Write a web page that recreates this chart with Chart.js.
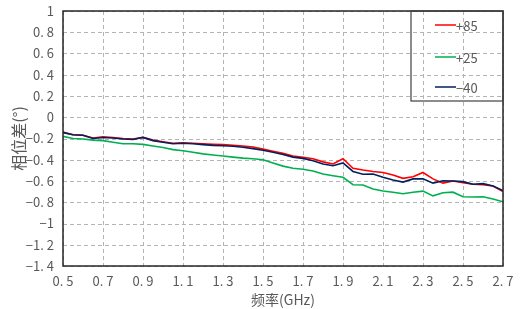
<!DOCTYPE html>
<html>
<head>
<meta charset="utf-8">
<script src="https://cdn.jsdelivr.net/npm/chart.js@4/dist/chart.umd.min.js"></script>
<style>
  html, body { margin: 0; padding: 0; background: #fff; }
  #wrap { width: 523px; height: 309px; position: relative; }
</style>
</head>
<body>
<div id="wrap"><canvas id="chart"></canvas></div>
<script>
// frequency points (GHz)
const freq = [
    0.50, 0.55, 0.60, 0.65, 0.70, 0.75, 0.80, 0.85, 0.90, 0.95,
    1.00, 1.05, 1.10, 1.15, 1.20, 1.25, 1.30, 1.35, 1.40, 1.45,
    1.50, 1.55, 1.60, 1.65, 1.70, 1.75, 1.80, 1.85, 1.90, 1.95,
    2.00, 2.05, 2.10, 2.15, 2.20, 2.25, 2.30, 2.35, 2.40, 2.45,
    2.50, 2.55, 2.60, 2.65, 2.70
];

// phase difference (deg) for each temperature
const p85 = [
    -0.14, -0.165, -0.17, -0.195, -0.185, -0.19, -0.20, -0.205, -0.19, -0.215,
    -0.23, -0.245, -0.24, -0.245, -0.25, -0.255, -0.258, -0.263, -0.27, -0.28,
    -0.30, -0.32, -0.34, -0.365, -0.377, -0.39, -0.42, -0.44, -0.39, -0.48,
    -0.497, -0.51, -0.52, -0.543, -0.575, -0.56, -0.52, -0.58, -0.62, -0.60,
    -0.615, -0.63, -0.635, -0.647, -0.70
];
const p25 = [
    -0.18, -0.20, -0.205, -0.215, -0.22, -0.235, -0.25, -0.25, -0.255, -0.27,
    -0.285, -0.305, -0.315, -0.33, -0.345, -0.355, -0.365, -0.375, -0.385, -0.39,
    -0.40, -0.43, -0.46, -0.48, -0.49, -0.506, -0.535, -0.55, -0.565, -0.635,
    -0.638, -0.675, -0.694, -0.706, -0.72, -0.706, -0.695, -0.74, -0.71, -0.705,
    -0.748, -0.75, -0.748, -0.77, -0.795
];
const m40 = [
    -0.145, -0.165, -0.17, -0.20, -0.19, -0.195, -0.205, -0.21, -0.19, -0.22,
    -0.235, -0.25, -0.245, -0.25, -0.258, -0.265, -0.268, -0.273, -0.282, -0.295,
    -0.31, -0.33, -0.35, -0.375, -0.387, -0.41, -0.44, -0.456, -0.43, -0.51,
    -0.537, -0.535, -0.565, -0.59, -0.61, -0.58, -0.58, -0.62, -0.597, -0.60,
    -0.606, -0.63, -0.625, -0.647, -0.69
];

const seriesNames = ['+85', '+25', '\u221240'];
const seriesColors = ['#ff0000', '#00b050', '#002060'];

// tick labels
const xTicks = [0.5, 0.7, 0.9, 1.1, 1.3, 1.5, 1.7, 1.9, 2.1, 2.3, 2.5, 2.7];
const xTickLabels = ['0. 5', '0. 7', '0. 9', '1. 1', '1. 3', '1. 5', '1. 7', '1. 9', '2. 1', '2. 3', '2. 5', '2. 7'];
const yTicks = [1, 0.8, 0.6, 0.4, 0.2, 0, -0.2, -0.4, -0.6, -0.8, -1, -1.2, -1.4];
const yTickLabels = ['1', '0. 8', '0. 6', '0. 4', '0. 2', '0', '\u22120. 2', '\u22120. 4', '\u22120. 6', '\u22120. 8', '\u22121', '\u22121. 2', '\u22121. 4'];

const FONT = '"Noto Sans CJK SC", "Noto Sans", sans-serif';
const TEXT = '#595959';

function toPoints(values) {
    return freq.map(function(f, i) { return { x: f, y: values[i] }; });
}

// dashed grid drawn under the lines
const gridPlugin = {
    id: 'dashedGrid',
    beforeDatasetsDraw: function(chart) {
        const ctx = chart.ctx;
        const a = chart.chartArea;
        const xs = chart.scales.x, ys = chart.scales.y;
        ctx.save();
        ctx.strokeStyle = '#b4b4b4';
        ctx.lineWidth = 1;
        ctx.setLineDash([4, 3]);
        xTicks.forEach(function(v) {
            const px = Math.round(xs.getPixelForValue(v)) + 0.5;
            ctx.beginPath();
            ctx.moveTo(px, a.top);
            ctx.lineTo(px, a.bottom);
            ctx.stroke();
        });
        yTicks.forEach(function(v) {
            const py = Math.round(ys.getPixelForValue(v)) + 0.5;
            ctx.beginPath();
            ctx.moveTo(a.left, py);
            ctx.lineTo(a.right, py);
            ctx.stroke();
        });
        ctx.restore();
    }
};

// frame around the plot area plus the boxed legend in the top-right corner
const framePlugin = {
    id: 'frame',
    afterDraw: function(chart) {
        const ctx = chart.ctx;
        const a = chart.chartArea;
        ctx.save();
        ctx.strokeStyle = '#262626';
        ctx.lineWidth = 1.5;
        ctx.strokeRect(a.left, a.top, a.right - a.left, a.bottom - a.top);

        // legend box
        const boxLeft = 411, boxTop = a.top, boxRight = a.right, boxBottom = 101;
        ctx.lineWidth = 1.2;
        ctx.strokeStyle = '#404040';
        ctx.strokeRect(boxLeft, boxTop, boxRight - boxLeft, boxBottom - boxTop);

        const rows = [25, 57, 87];
        ctx.font = '13px ' + FONT;
        ctx.textBaseline = 'middle';
        ctx.textAlign = 'left';
        chart.data.datasets.forEach(function(ds, i) {
            ctx.strokeStyle = ds.borderColor;
            ctx.lineWidth = 1.5;
            ctx.beginPath();
            ctx.moveTo(435, rows[i]);
            ctx.lineTo(456, rows[i]);
            ctx.stroke();
            ctx.fillStyle = TEXT;
            ctx.fillText(ds.label, 456, rows[i] + 1);
        });
        ctx.restore();
    }
};

const chart = new Chart(document.getElementById('chart'), {
    type: 'line',
    data: {
        datasets: [
            { label: seriesNames[0], data: toPoints(p85), borderColor: seriesColors[0], order: 1 },
            { label: seriesNames[1], data: toPoints(p25), borderColor: seriesColors[1], order: 2 },
            { label: seriesNames[2], data: toPoints(m40), borderColor: seriesColors[2], order: 0 }
        ]
    },
    options: {
        responsive: true,
        maintainAspectRatio: false,
        animation: false,
        layout: { padding: { left: 0, right: 20, top: 11, bottom: 0 } },
        elements: {
            line: { borderWidth: 1.6, tension: 0, fill: false },
            point: { radius: 0 }
        },
        plugins: {
            legend: { display: false },
            tooltip: { enabled: false }
        },
        scales: {
            x: {
                type: 'linear',
                min: 0.5,
                max: 2.7,
                afterBuildTicks: function(scale) {
                    scale.ticks = xTicks.map(function(v) { return { value: v }; });
                },
                afterFit: function(scale) {
                    scale.height = 43;
                    scale.paddingLeft = 0;
                    scale.paddingRight = 0;
                },
                ticks: {
                    autoSkip: false,
                    maxRotation: 0,
                    padding: 7,
                    color: TEXT,
                    font: { family: FONT, size: 13 },
                    callback: function(value) {
                        const i = xTicks.findIndex(function(t) { return Math.abs(t - value) < 1e-6; });
                        return i >= 0 ? xTickLabels[i] : '';
                    }
                },
                grid: { display: false, drawTicks: false },
                border: { display: false },
                title: {
                    display: true,
                    text: '频率(GHz)',
                    color: TEXT,
                    font: { family: FONT, size: 14 },
                    padding: { top: 0, bottom: 1 }
                }
            },
            y: {
                min: -1.4,
                max: 1,
                afterBuildTicks: function(scale) {
                    scale.ticks = yTicks.map(function(v) { return { value: v }; });
                },
                afterFit: function(scale) {
                    scale.width = 63;
                    scale.paddingTop = 0;
                    scale.paddingBottom = 0;
                },
                ticks: {
                    autoSkip: false,
                    padding: 9,
                    color: TEXT,
                    font: { family: FONT, size: 13 },
                    callback: function(value) {
                        const i = yTicks.findIndex(function(t) { return Math.abs(t - value) < 1e-6; });
                        return i >= 0 ? yTickLabels[i] : '';
                    }
                },
                grid: { display: false, drawTicks: false },
                border: { display: false },
                title: {
                    display: true,
                    text: '相位差(°)',
                    color: TEXT,
                    font: { family: FONT, size: 16 },
                    padding: { top: 9, bottom: 0 }
                }
            }
        }
    },
    plugins: [gridPlugin, framePlugin]
});
</script>
</body>
</html>
